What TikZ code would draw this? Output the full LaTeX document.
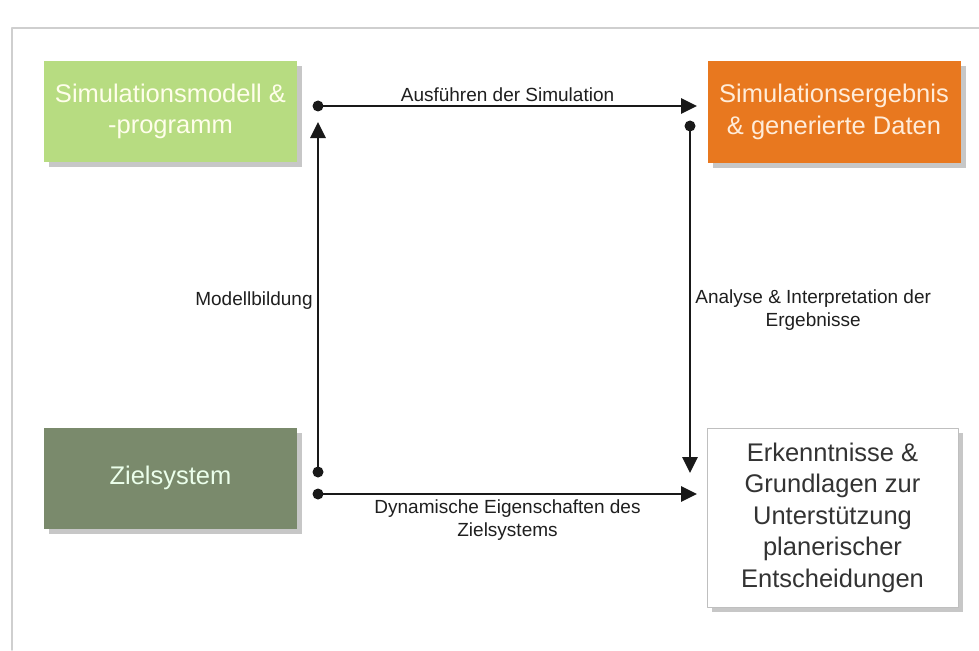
\documentclass[tikz,border=0pt]{standalone}
\usepackage{fontspec}
\setmainfont{Liberation Sans}
\usetikzlibrary{arrows.meta,shadows}
\definecolor{modellgruen}{HTML}{B7DC81}
\definecolor{ergebnisorange}{HTML}{E8781F}
\definecolor{zielgruen}{HTML}{7A8A6C}
\definecolor{rahmengrau}{HTML}{CFCFCF}
\tikzset{
	box/.style={minimum width=253pt, minimum height=101pt, align=center, inner sep=4pt,
		font=\fontsize{25.5}{31.5}\selectfont,
		drop shadow={shadow xshift=5pt, shadow yshift=-5pt, fill=black!22, opacity=1}},
	pfeil/.style={line width=2.8pt, draw=black!90, -{Triangle[length=16pt, width=15pt]}},
	beschriftung/.style={font=\fontsize{19}{23}\selectfont, text=black!88, align=center, inner sep=2pt}
}
\begin{document}
\begin{tikzpicture}[x=1pt, y=-1pt, line join=round, line cap=round]
			\useasboundingbox (0,0) rectangle (979,650);
			\fill[white] (0,0) rectangle (979,650);
			\draw[rahmengrau, line width=1.8pt] (12,650) -- (12,28) -- (979,28);
			\node[box, fill=modellgruen, text=white!92!yellow] (modell) at (170.5,111.5) {Simulationsmodell \&\\-programm};
			\node[box, fill=ergebnisorange, text=white!85!orange] (ergebnis) at (834,112) {Simulationsergebnis\\\& generierte Daten};
			\node[box, fill=zielgruen, text=white!92!green] (ziel) at (170.5,478) {Zielsystem};
			\node[box, fill=white, draw=black!25, line width=0.6pt, minimum width=251pt, minimum height=179pt, text=black!80] (erkenntnis) at (832.5,517.5)
				{Erkenntnisse \&\\Grundlagen zur\\Unterstützung\\planerischer\\Entscheidungen};
			\path
			(318,106) coordinate (A)
			(697,106) coordinate (A')
			(318,472) coordinate (B)
			(318,122) coordinate (B')
			(690,126) coordinate (C)
			(690,473) coordinate (C')
			(318,494) coordinate (D)
			(697,494) coordinate (D');
			\draw[pfeil] (A) -- (A') node[midway, above=1pt, beschriftung] {Ausführen der Simulation};
			\draw[pfeil] (B) -- (B') node[pos=0.49, left=2pt, beschriftung] {Modellbildung};
			\draw[pfeil] (C) -- (C') node[pos=0.53, right=2pt, beschriftung] {Analyse \& Interpretation der\\Ergebnisse};
			\draw[pfeil] (D) -- (D') node[midway, below=2pt, beschriftung] {Dynamische Eigenschaften des\\Zielsystems};
			\foreach \p in {A, B, C, D}
			\fill[black!90] (\p) circle (5.5pt);
		\end{tikzpicture}
\end{document}
